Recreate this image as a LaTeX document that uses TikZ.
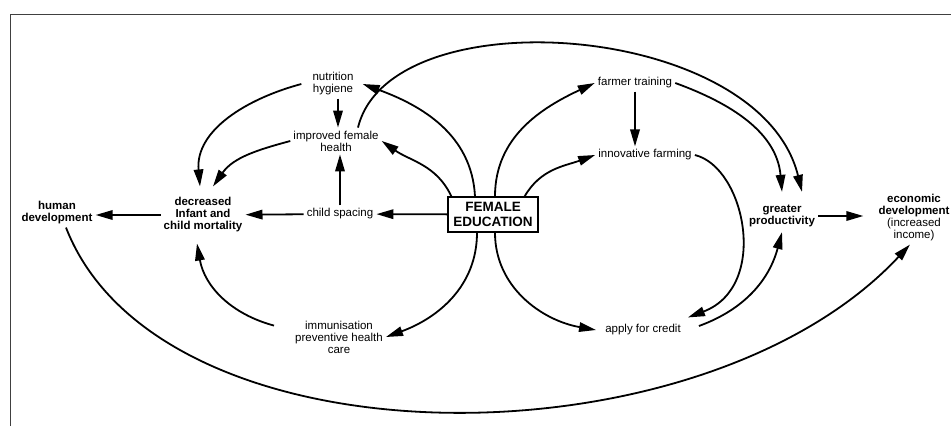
\documentclass[tikz,border=0pt]{standalone}
\usepackage{fontspec}
\setmainfont{Liberation Sans}
\usetikzlibrary{arrows.meta}

\begin{document}
\begin{tikzpicture}[x=1pt,y=1pt,
    lbl/.style={align=center,inner sep=3pt,font=\fontsize{11.5}{12}\selectfont},
    hd/.style={align=center,inner sep=3pt,font=\fontsize{11.5}{12}\selectfont\bfseries},
    edubox/.style={draw,line width=1.3pt,align=center,inner sep=2pt,
        minimum width=90pt,minimum height=35pt,font=\fontsize{13.5}{15}\selectfont\bfseries},
    link/.style={line width=1.8pt,-{Triangle[length=17pt,width=9.5pt]}}]
    \useasboundingbox (0,0) rectangle (951,-426);
    % page frame
    \draw[black!75,line width=0.8pt] (10,-426) -- (10,-14) -- (951,-14);

    \node[edubox] (edu) at (493,-214.5) {FEMALE\\EDUCATION};
    \node[lbl] (nutr) at (333,-84) {nutrition\\hygiene};
    \node[lbl] (health) at (336,-141) {improved female\\health};
    \node[lbl] (spacing) at (340,-214) {child spacing};
    \node[hd] (mort) at (203,-215) {decreased\\Infant and\\child mortality};
    \node[hd] (human) at (57,-213) {human\\development};
    \node[lbl] (immun) at (339,-337) {immunisation\\preventive health\\care};
    \node[lbl] (farmer) at (635,-83) {farmer training};
    \node[lbl] (innov) at (645,-155) {innovative farming};
    \node[lbl] (credit) at (643,-330) {apply for credit};
    \node[hd] (prod) at (782,-216) {greater\\productivity};
    \node[hd] (econ) at (914,-218) {economic\\development\\\mdseries(increased\\\mdseries income)};

    % health side
    \draw[link] (edu) -- (spacing);
    \draw[link] (spacing) -- (mort);
    \draw[link] (mort.west) -- (human.east |- mort.west);
    \draw[link] (spacing.north) -- (spacing.north |- health.south);
    \draw[link] ([xshift=5pt]nutr.south) -- ([xshift=5pt]nutr.south |- health.north);
    \draw[link] ([xshift=-8pt]nutr.west) to[out=195,in=95] ([shift={(-3,8)}]mort.north);
    \draw[link] (health.west) to[out=195,in=55] ([shift={(10,8)}]mort.north);
    \draw[link] ([xshift=-18pt]edu.north) to[out=93,in=-20] ([xshift=6pt]nutr.east);
    \draw[link] ([xshift=4pt]edu.north west) to[out=115,in=-35] (health.east);
    \draw[link] ([xshift=-16pt]edu.south) to[out=-90,in=20] (immun.east);
    \draw[link] ([shift={(-18,-8)}]immun.north west) to[out=165,in=-80] ([shift={(-6,-8)}]mort.south);

    % farming side
    \draw[link] ([xshift=2pt]edu.north) to[out=90,in=205] (farmer.west);
    \draw[link] ([xshift=-14pt]edu.north east) to[out=60,in=200] (innov.west);
    \draw[link] (farmer.south) -- (farmer.south |- innov.north);
    \draw[link] (farmer.east) to[out=-20,in=95] ([yshift=10pt]prod.north);
    \draw[link] ([xshift=22pt]health.north) .. controls +(32,132) and +(-42,171) .. ([shift={(20,10)}]prod.north);
    \draw[link] (innov.east) .. controls +(50,-12) and +(82,31) .. ([shift={(4,4)}]credit.north east);
    \draw[link] ([xshift=2pt]edu.south) to[out=-90,in=170] ([xshift=-6pt]credit.west);
    \draw[link] ([shift={(15,4)}]credit.east) to[out=20,in=-105] ([yshift=-2pt]prod.south);
    \draw[link] (prod.east) -- ([xshift=-12pt]econ.west |- prod.east);
    \draw[link] ([xshift=9pt]human.south) .. controls +(94,-242) and +(-210,-225) .. ([xshift=-4pt]econ.south);
\end{tikzpicture}
\end{document}
